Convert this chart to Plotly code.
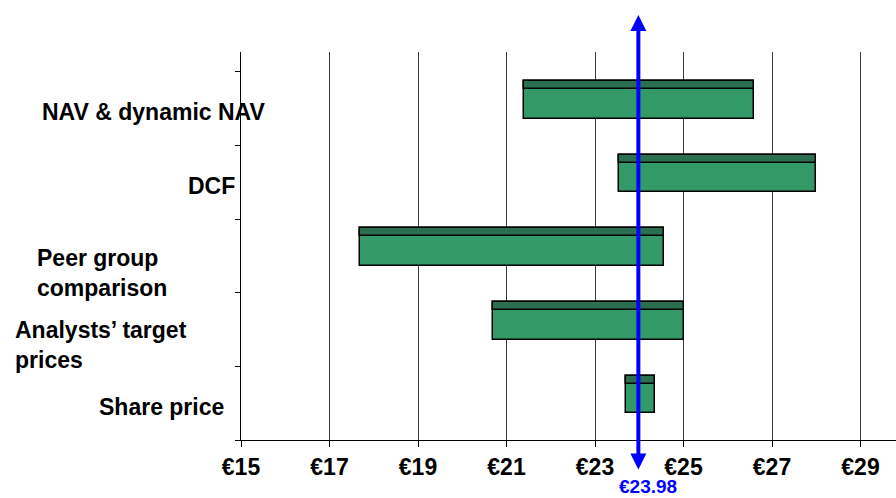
import plotly.graph_objects as go

# Valuation ranges per method (EUR per share), listed bottom to top
methods = ["Share price", "Analysts’ target prices", "Peer group comparison",
           "DCF", "NAV & dynamic NAV"]
low_values = [23.7, 20.7, 17.7, 23.55, 21.4]
high_values = [24.35, 25.0, 24.55, 28.0, 26.6]
current_price = 23.98
x_ticks = [15, 17, 19, 21, 23, 25, 27, 29]
x_tick_labels = ["€15", "€17", "€19", "€21", "€23", "€25", "€27", "€29"]

FONT = "Liberation Sans, Arial, sans-serif"
spans = [h - l for l, h in zip(low_values, high_values)]

fig = go.Figure()

# main body of each range bar
fig.add_trace(go.Bar(
    y=methods, x=spans, base=low_values, orientation="h",
    width=0.51, offset=-0.135,
    marker=dict(color="#339966", line=dict(color="black", width=1.5)),
    hoverinfo="skip", showlegend=False,
))
# darker top band on each bar
fig.add_trace(go.Bar(
    y=methods, x=spans, base=low_values, orientation="h",
    width=0.11, offset=0.265,
    marker=dict(color="#2a7050", line=dict(color="black", width=1.5)),
    hoverinfo="skip", showlegend=False,
))

# row labels placed beside the axis
label_specs = {
    "NAV & dynamic NAV": dict(px=267, py=112, anchor="right", text="NAV & dynamic NAV"),
    "DCF": dict(px=237, py=186, anchor="right", text="DCF"),
    "Peer group comparison": dict(px=35, py=273, anchor="left", text="Peer group<br>comparison"),
    "Analysts’ target prices": dict(px=13, py=345, anchor="left", text="Analysts’ target<br>prices"),
    "Share price": dict(px=226, py=407, anchor="right", text="Share price"),
}
PL, PT, PB, PW = 241, 52, 440, 655
for m in methods:
    s = label_specs[m]
    fig.add_annotation(
        text=s["text"], xref="paper", yref="paper",
        x=(s["px"] - PL) / PW, y=(PB - s["py"]) / (PB - PT),
        xanchor=s["anchor"], yanchor="middle", align="left",
        showarrow=False,
        font=dict(family=FONT, size=23, color="black", weight="bold"),
    )

# current share price marker: double-headed vertical arrow
fig.add_annotation(
    x=current_price, xref="x",
    y=(PB - 15) / (PB - PT), yref="paper",
    ax=0, ay=456, axref="pixel", ayref="pixel",
    text="", showarrow=True,
    arrowhead=2, startarrowhead=2, arrowside="end+start",
    arrowsize=0.8, startarrowsize=0.8, arrowwidth=4, arrowcolor="#0000ff",
)
fig.add_annotation(
    x=current_price, xref="x", xshift=10,
    y=(PB - 498) / (PB - PT), yref="paper",
    text=f"€{current_price:.2f}", showarrow=False,
    xanchor="center", yanchor="bottom", borderpad=0,
    font=dict(family=FONT, size=19, color="#0000ff", weight="bold"),
)

fig.update_layout(
    width=896, height=498,
    margin=dict(l=PL, r=0, t=PT, b=498 - PB, pad=0),
    paper_bgcolor="white", plot_bgcolor="white",
    barmode="overlay", bargap=0,
    xaxis=dict(
        range=[15, 15 + PW / 44.25],
        tickvals=x_ticks, ticktext=x_tick_labels,
        showgrid=True, gridcolor="#3a3a3a", gridwidth=1,
        zeroline=False, showline=True, linecolor="black", linewidth=1,
        ticks="outside", ticklen=6, tickcolor="black",
        ticklabelstandoff=0,
        tickfont=dict(family=FONT, size=23, color="black", weight="bold"),
    ),
    yaxis=dict(
        type="category", categoryorder="array", categoryarray=methods,
        range=[-0.5, 4.77],
        tickson="boundaries", ticks="outside", ticklen=5, tickcolor="black",
        showticklabels=False, showgrid=False, zeroline=False,
        showline=True, linecolor="black", linewidth=1,
    ),
)

fig.write_html("out.html")
